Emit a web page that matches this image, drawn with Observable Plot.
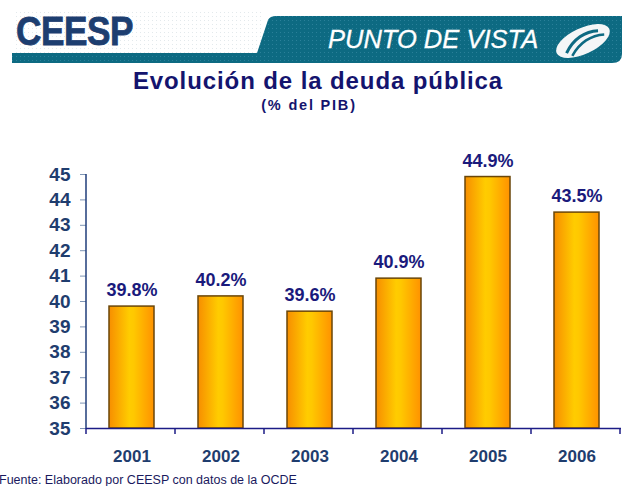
<!DOCTYPE html>
<html>
<head>
<meta charset="utf-8">
<script src="https://cdn.jsdelivr.net/npm/d3@7"></script>
<script src="https://cdn.jsdelivr.net/npm/@observablehq/plot@0.6"></script>
<style>
  html, body { margin: 0; padding: 0; background: #fff; }
  #page { position: relative; width: 624px; height: 486px; overflow: hidden; font-family: "Liberation Sans", Arial, sans-serif; }
  #banner { position: absolute; left: 0; top: 0; }
  #title { position: absolute; left: 0; width: 636px; top: 67px; text-align: center; font-weight: bold; font-size: 24px; color: #14146e; letter-spacing: 0.9px; }
  #subtitle { position: absolute; left: 0; width: 618px; top: 97px; text-align: center; font-weight: bold; font-size: 14.5px; color: #14146e; letter-spacing: 1.8px; }
  #chart { position: absolute; left: 0; top: 140px; }
  #caption { position: absolute; left: -1px; top: 473px; font-size: 12.5px; color: #1a1a5e; }
</style>
</head>
<body>
<div id="page">
  <svg id="banner" width="624" height="66">
    <defs>
      <pattern id="dots" width="4" height="4" patternUnits="userSpaceOnUse">
        <rect width="4" height="4" fill="#ffffff"/>
        <rect width="1" height="1" fill="#e3e9ec"/>
      </pattern>
      <pattern id="tdots" width="4" height="4" patternUnits="userSpaceOnUse">
        <rect width="4" height="4" fill="#0d6a82"/>
        <rect width="1" height="1" fill="#2a8099"/>
      </pattern>
    </defs>
    <rect x="14" y="12" width="250" height="42" fill="url(#dots)"/>
    <path d="M12,53 L257,53 L268,20 Q270,16 276,16 L622,16 L622,54 Q622,63 612,63 L12,63 Z" fill="url(#tdots)"/>
    <text x="16" y="45.5" font-family="Liberation Sans, Arial" font-weight="bold" font-size="40" fill="#1d3e70" stroke="#1d3e70" stroke-width="0.8" transform="translate(16,45.5) scale(0.88,1) translate(-16,-45.5)" letter-spacing="-0.5">CEESP</text>
    <text x="328" y="47.5" font-family="Liberation Sans, Arial" font-style="italic" font-size="25.5" fill="#ffffff" stroke="#ffffff" stroke-width="0.3">PUNTO DE VISTA</text>
    <g transform="translate(583,41) rotate(-25)">
      <ellipse rx="29" ry="13" fill="#f4f6f7"/>
      <path d="M-20,4 C-8,-6 6,-8 18,-3" stroke="#0d6a82" stroke-width="3" fill="none"/>
      <path d="M-16,9 C-4,0 10,-2 22,3" stroke="#0d6a82" stroke-width="2.5" fill="none"/>
    </g>
  </svg>
  <div id="title">Evolución de la deuda pública</div>
  <div id="subtitle">(% del PIB)</div>
  <div id="chart"></div>
  <div id="caption">Fuente: Elaborado por CEESP con datos de la OCDE</div>
</div>
<script>
const years = ["2001", "2002", "2003", "2004", "2005", "2006"];
const values = [39.8, 40.2, 39.6, 40.9, 44.9, 43.5];
const valueLabels = ["39.8%", "40.2%", "39.6%", "40.9%", "44.9%", "43.5%"];
const yTicks = [35, 36, 37, 38, 39, 40, 41, 42, 43, 44, 45];

const data = years.map((year, i) => ({year, value: values[i], label: valueLabels[i]}));
const base = yTicks[0];

const chart = Plot.plot({
  width: 624,
  height: 340,
  marginTop: 34,
  marginBottom: 52,
  marginLeft: 86,
  marginRight: 3,
  style: {fontFamily: "Liberation Sans, Arial, sans-serif", background: "transparent", overflow: "visible"},
  x: {domain: years, paddingInner: 0.5, paddingOuter: 0.25, label: null},
  y: {domain: [yTicks[0], yTicks[yTicks.length - 1]], label: null},
  marks: [
    Plot.axisY({ticks: yTicks, tickSize: 6, tickPadding: 10, fontSize: 19, fontWeight: "bold", fill: "#1f3d6e", stroke: "#7f95b5", label: null}),
    Plot.axisX({tickSize: 0, tickPadding: 21, fontSize: 17, fontWeight: "bold", fill: "#1f3d6e", label: null}),
    Plot.barY(data, {x: "year", y1: base, y2: "value", fill: "url(#barGrad)", stroke: "#6a4608", strokeWidth: 1.5}),
    Plot.ruleY([base], {stroke: "#1c1c86", strokeWidth: 1.5}),
    Plot.text(data, {x: "year", y: "value", text: "label", dy: -16, fontSize: 18, fontWeight: "bold", fill: "#1a1a7c"})
  ]
});

// gradient for bars + axis decorations derived from the plot's scales
const svg = d3.select(chart);
const defs = svg.insert("defs", ":first-child");
const grad = defs.append("linearGradient").attr("id", "barGrad").attr("x1", "0").attr("x2", "1").attr("y1", "0").attr("y2", "0");
grad.append("stop").attr("offset", "0").attr("stop-color", "#f78e00");
grad.append("stop").attr("offset", "0.45").attr("stop-color", "#ffcc00");
grad.append("stop").attr("offset", "0.55").attr("stop-color", "#ffc800");
grad.append("stop").attr("offset", "1").attr("stop-color", "#ff9200");

const xs = chart.scale("x");
const ys = chart.scale("y");
const x0 = xs.range[0];
const step = xs.step;
const yBottom = ys.range[0];
const yTop = ys.range[1];
const g = svg.append("g");
// y axis line
g.append("line").attr("x1", x0).attr("x2", x0).attr("y1", yTop).attr("y2", yBottom)
  .attr("stroke", "#1f3d7a").attr("stroke-width", 1.5);
// x boundary ticks
for (let i = 0; i <= years.length; i++) {
  const xx = x0 + i * step;
  g.append("line").attr("x1", xx).attr("x2", xx).attr("y1", yBottom).attr("y2", yBottom + 6)
    .attr("stroke", "#1c1c86").attr("stroke-width", 1.5);
}
document.getElementById("chart").appendChild(chart);
</script>
</body>
</html>
